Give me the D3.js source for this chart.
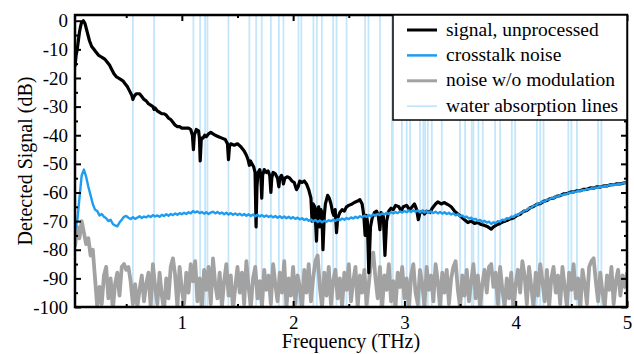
<!DOCTYPE html>
<html>
<head>
<meta charset="utf-8">
<script src="https://cdn.jsdelivr.net/npm/d3@7"></script>
<style>
  body { margin: 0; background: #fff; }
  svg text { font-family: "Liberation Serif", "Times New Roman", serif; fill: #000; }
</style>
</head>
<body>
<div id="chart"></div>
<script>
// measured signal (THz, dB)
const signalPts = [
  [0.04,-16],[0.05,-12],[0.06,-10],[0.07,-7],[0.08,-4],[0.09,-2],[0.10,-0.5],[0.115,0],[0.13,-1],
  [0.15,-4],[0.17,-7],[0.19,-9],[0.21,-10],[0.23,-11],[0.25,-12],[0.27,-12.5],[0.29,-13],[0.31,-13.5],
  [0.33,-14.5],[0.35,-15.5],[0.37,-17],[0.39,-18.5],[0.41,-19.5],[0.43,-20],[0.45,-20.5],[0.47,-21],
  [0.49,-22],[0.51,-23],[0.53,-24.5],[0.55,-26],[0.56,-27.5],[0.57,-26.5],[0.59,-25.5],[0.62,-25.5],
  [0.64,-26.5],[0.66,-27.5],[0.68,-28],[0.70,-29],[0.72,-29.5],[0.74,-30],[0.75,-31],[0.76,-30.5],
  [0.78,-31.5],[0.80,-32],[0.82,-32.5],[0.84,-32.5],[0.86,-33],[0.88,-34],[0.90,-34.5],[0.92,-35.5],
  [0.94,-36.5],[0.96,-37],[0.98,-37],[1.00,-37.5],[1.03,-37.5],[1.06,-37.5],[1.08,-38],[1.095,-40],
  [1.104,-45],[1.112,-40],[1.13,-38],[1.15,-38.5],[1.158,-41],[1.165,-49],[1.175,-41],[1.19,-41],
  [1.205,-40],[1.22,-40.5],[1.24,-39.5],[1.26,-39],[1.28,-39.5],[1.30,-40],[1.33,-40.5],[1.36,-41],
  [1.39,-41.5],[1.41,-43],[1.419,-48.5],[1.428,-44],[1.44,-43],[1.47,-43.5],[1.50,-43],[1.53,-44],
  [1.56,-45.5],[1.58,-47],[1.595,-48.5],[1.607,-50.5],[1.617,-49],[1.63,-50],[1.645,-51],[1.658,-53],
  [1.667,-72],[1.675,-58],[1.685,-53],[1.70,-52],[1.71,-54],[1.718,-62],[1.726,-54],[1.74,-52],
  [1.76,-53],[1.775,-52.5],[1.79,-54],[1.80,-60],[1.808,-55],[1.82,-53],[1.84,-53.5],[1.86,-55],
  [1.872,-58],[1.88,-55],[1.895,-54],[1.905,-55],[1.913,-57],[1.925,-55],[1.95,-54.5],[1.97,-55],
  [1.99,-56],[2.01,-56.5],[2.03,-59],[2.045,-58],[2.06,-56],[2.08,-56.5],[2.10,-56],[2.12,-57],
  [2.14,-59],[2.16,-62],[2.17,-70],[2.18,-64],[2.195,-65],[2.21,-77],[2.22,-66],[2.23,-65],
  [2.24,-72],[2.25,-66],[2.258,-67],[2.268,-80],[2.28,-68],[2.29,-64],[2.31,-61],[2.325,-62],
  [2.34,-64],[2.355,-67],[2.365,-68],[2.378,-66],[2.39,-74],[2.40,-69],[2.42,-67],[2.44,-66],
  [2.46,-66.5],[2.48,-65],[2.50,-64.5],[2.53,-64],[2.55,-63.5],[2.58,-63],[2.60,-62.5],[2.62,-64],
  [2.635,-68],[2.647,-75],[2.657,-68],[2.667,-70],[2.68,-88],[2.695,-72],[2.71,-69],[2.73,-67],
  [2.75,-66.5],[2.765,-68],[2.78,-73],[2.79,-67],[2.81,-68],[2.825,-82],[2.84,-70],[2.86,-66.5],
  [2.88,-65.5],[2.90,-66],[2.92,-64.5],[2.95,-65],[2.97,-66.5],[2.99,-65],[3.02,-64.5],[3.045,-66],
  [3.07,-65],[3.09,-64],[3.11,-66],[3.125,-69.5],[3.14,-67],[3.165,-66.5],[3.18,-67.5],[3.20,-66.5],
  [3.23,-67],[3.25,-65.5],[3.28,-64],[3.30,-63.3],[3.33,-64],[3.36,-63.5],[3.39,-64.2],[3.42,-65],
  [3.45,-66.5],[3.48,-67.5],[3.51,-68.5],[3.54,-69.5],[3.57,-70.5],[3.60,-70],[3.63,-70.8],[3.66,-70.5],
  [3.69,-71.2],[3.72,-71.5],[3.75,-72],[3.78,-72.8],[3.80,-72],[3.83,-71.3],[3.86,-70.8],[3.89,-70.2],
  [3.92,-69.8],[3.95,-69.2],[3.98,-68.9],[4.01,-68],[4.04,-67.6],[4.07,-66.6],[4.10,-66.3],[4.13,-65.3],
  [4.16,-64.9],[4.19,-64.1],[4.22,-63.9],[4.25,-63.1],[4.28,-62.8],[4.31,-62.1],[4.34,-62],[4.37,-61.3],
  [4.40,-61.1],[4.43,-60.5],[4.46,-60.4],[4.49,-59.9],[4.52,-59.8],[4.55,-59.4],[4.58,-59.4],[4.61,-58.9],
  [4.64,-58.9],[4.67,-58.4],[4.70,-58.5],[4.73,-58],[4.76,-58.1],[4.79,-57.7],[4.82,-57.7],[4.85,-57.3],
  [4.88,-57.3],[4.91,-57],[4.94,-57],[4.97,-56.7],[5.00,-56.5]
];

// crosstalk and no-modulation noise, sampled from 0.04 THz every 0.02 THz
const gridStart = 0.04, gridStep = 0.02;
const crosstalkDb = [
  -73,-70,-62,-54,-52,-54.5,-58,-61,-64,-66,-66.5,-68,-67.5,-68.5,-69,-70,-69.5,-71,-71.5,-71.8,
  -70.5,-69.5,-68.5,-68.2,-68.8,-69.3,-68.6,-69.2,-68.8,-68.3,-68.9,-68.4,-68.7,-68.1,-68.6,-67.9,-68.4,-68.0,-68.5,-67.8,
  -68.2,-67.6,-68.1,-67.5,-67.9,-67.3,-67.8,-67.2,-67.6,-67.1,-67.5,-66.9,-67.3,-66.5,-67.0,-66.6,-67.2,-66.8,-67.4,-66.9,
  -67.5,-67.0,-66.7,-67.3,-66.8,-67.4,-67.0,-67.6,-67.1,-67.7,-67.2,-67.8,-67.3,-67.9,-67.4,-68.0,-67.5,-68.1,-67.6,-68.2,
  -67.7,-68.3,-67.8,-68.4,-67.9,-68.5,-68.0,-68.6,-68.1,-68.7,-68.2,-68.8,-68.3,-68.9,-68.4,-69.0,-68.5,-69.1,-68.6,-69.2,
  -68.8,-69.4,-69.0,-69.6,-69.2,-69.9,-69.4,-70.1,-69.6,-70.3,-69.8,-70.4,-69.9,-70.2,-69.7,-70.0,-69.5,-69.9,-69.3,-69.7,
  -69.1,-69.5,-68.9,-69.3,-68.7,-69.1,-68.5,-68.9,-68.3,-68.7,-68.1,-68.5,-67.9,-68.3,-67.7,-68.1,-67.5,-67.9,-67.3,-67.7,
  -67.1,-67.5,-66.9,-67.3,-66.8,-67.2,-66.6,-67.0,-66.5,-66.9,-66.3,-66.8,-66.2,-66.7,-66.3,-66.9,-66.4,-67.0,-66.5,-67.1,
  -66.6,-67.2,-66.7,-67.3,-66.8,-67.4,-66.9,-67.5,-67.1,-67.7,-67.3,-68.0,-67.6,-68.3,-68.0,-68.7,-68.4,-69.1,-68.8,-69.5,
  -69.2,-69.9,-69.6,-70.3,-69.9,-70.5,-70.2,-71.0,-70.4,-70.7,-70.0,-70.2,-69.5,-69.7,-69.0,-69.1,-68.4,-68.6,-67.8,-67.9,
  -67.1,-67.0,-66.2,-66.2,-65.4,-65.3,-64.6,-64.5,-63.8,-63.8,-63.1,-63.2,-62.5,-62.5,-61.9,-62.0,-61.4,-61.4,-60.9,-61.0,
  -60.5,-60.5,-60.1,-60.1,-59.7,-59.8,-59.4,-59.5,-59.1,-59.2,-58.8,-58.9,-58.5,-58.6,-58.2,-58.3,-57.9,-58.0,-57.7,-57.8,
  -57.4,-57.5,-57.2,-57.3,-57.0,-57.0,-56.8,-56.7,-56.4
];
const noiseDb = [
  -79,-72,-76,-70,-74,-78,-76,-82,-80,-90,-100,-93,-99,-89,-86,-97,-90,-101,-92,-88,
  -96,-86,-85,-87,-86,-91,-99,-92,-100,-94,-89,-98,-92,-88,-100,-85,-93,-99,-88,-96,
  -101,-90,-97,-86,-83,-89,-100,-86,-94,-99,-88,-95,-85,-91,-84,-98,-90,-100,-87,-94,
  -86,-99,-83,-92,-97,-88,-100,-91,-85,-96,-89,-101,-93,-86,-95,-88,-99,-84,-93,-100,
  -90,-86,-97,-91,-100,-87,-94,-89,-99,-85,-92,-98,-88,-95,-84,-100,-90,-96,-86,-99,
  -89,-93,-101,-87,-95,-85,-98,-90,-84,-82,-93,-100,-88,-96,-86,-99,-91,-87,-97,-90,
  -100,-88,-94,-85,-98,-91,-86,-100,-89,-95,-87,-99,-92,-84,-81,-90,-97,-86,-100,-89,
  -94,-85,-98,-91,-100,-88,-93,-86,-97,-90,-101,-89,-85,-95,-99,-87,-92,-100,-86,-94,
  -89,-98,-85,-91,-100,-88,-95,-87,-99,-90,-86,-84,-94,-100,-89,-96,-87,-98,-91,-85,
  -97,-89,-100,-92,-87,-95,-86,-85,-93,-88,-99,-86,-94,-100,-90,-97,-88,-101,-92,-87,
  -95,-84,-89,-99,-86,-93,-100,-88,-96,-85,-91,-98,-87,-100,-90,-86,-95,-89,-99,-86,
  -93,-100,-88,-94,-85,-97,-90,-101,-87,-92,-99,-86,-84,-83,-91,-98,-88,-95,-100,-89,
  -94,-86,-99,-91,-87,-96,-89,-93,-88
];

// water absorption lines (THz)
const waterLines = [
  0.56, 0.751, 1.104, 1.164, 1.209, 1.23, 1.419, 1.607, 1.668, 1.718, 1.80, 1.872, 1.913,
  2.048, 2.074, 2.182, 2.213, 2.258, 2.36, 2.39, 2.48, 2.647, 2.677, 2.78, 2.887, 2.896,
  2.977, 3.02, 3.051, 3.14, 3.17, 3.186, 3.21, 3.246, 3.336, 3.50, 3.545, 3.605, 3.62,
  3.665, 3.704, 3.815, 3.86, 3.965, 3.995, 4.19, 4.22, 4.25, 4.473, 4.50, 4.55, 4.74, 4.77
];

const xMajor = [1, 2, 3, 4, 5];
const xMinor = [0.5, 1.5, 2.5, 3.5, 4.5];
const yMajor = [0, -10, -20, -30, -40, -50, -60, -70, -80, -90, -100];
const yMinor = [-5, -15, -25, -35, -45, -55, -65, -75, -85, -95];
const legendLabels = ['signal, unprocessed', 'crosstalk noise', 'noise w/o modulation', 'water absorption lines'];

const width = 634, height = 354;
const margin = { top: 15, right: 7, bottom: 47, left: 75 };
const colors = { signal: '#000000', crosstalk: '#1e9cf0', noise: '#a2a2a2', water: '#c4e6fa' };

const svg = d3.select('#chart').append('svg')
  .attr('width', width).attr('height', height);

const x = d3.scaleLinear().domain([0.04, 5]).range([margin.left, width - margin.right]);
const y = d3.scaleLinear().domain([-100, 2]).range([height - margin.bottom, margin.top]);

svg.append('clipPath').attr('id', 'plotClip')
  .append('rect')
  .attr('x', margin.left).attr('y', margin.top)
  .attr('width', width - margin.left - margin.right)
  .attr('height', height - margin.top - margin.bottom);

const plot = svg.append('g').attr('clip-path', 'url(#plotClip)');

plot.selectAll('.water')
  .data(waterLines)
  .enter().append('line')
  .attr('class', 'water')
  .attr('x1', d => x(d)).attr('x2', d => x(d))
  .attr('y1', margin.top).attr('y2', height - margin.bottom)
  .attr('stroke', colors.water).attr('stroke-width', 1.8);

const line = d3.line().x(d => x(d[0])).y(d => y(d[1]));
const onGrid = arr => arr.map((v, i) => [gridStart + i * gridStep, v]);

plot.append('path').datum(onGrid(noiseDb))
  .attr('d', line).attr('fill', 'none')
  .attr('stroke', colors.noise).attr('stroke-width', 3.8).attr('stroke-linejoin', 'round');

plot.append('path').datum(signalPts)
  .attr('d', line).attr('fill', 'none')
  .attr('stroke', colors.signal).attr('stroke-width', 3.2).attr('stroke-linejoin', 'round');

plot.append('path').datum(onGrid(crosstalkDb))
  .attr('d', line).attr('fill', 'none')
  .attr('stroke', colors.crosstalk).attr('stroke-width', 2.4).attr('stroke-linejoin', 'round');

// axes with inward ticks
const fmt = d => String(d);
const bottom = height - margin.bottom, right = width - margin.right;

svg.append('g').attr('transform', `translate(0,${bottom})`)
  .call(d3.axisBottom(x).tickValues(xMajor).tickSize(-6).tickPadding(8.5).tickFormat(fmt));
svg.append('g').attr('transform', `translate(0,${bottom})`)
  .call(d3.axisBottom(x).tickValues(xMinor).tickSize(-3).tickFormat(''));
svg.append('g').attr('transform', `translate(0,${margin.top})`)
  .call(d3.axisTop(x).tickValues(xMajor).tickSize(-6).tickFormat(''));
svg.append('g').attr('transform', `translate(0,${margin.top})`)
  .call(d3.axisTop(x).tickValues(xMinor).tickSize(-3).tickFormat(''));
svg.append('g').attr('transform', `translate(${margin.left},0)`)
  .call(d3.axisLeft(y).tickValues(yMajor).tickSize(-6).tickPadding(7).tickFormat(fmt));
svg.append('g').attr('transform', `translate(${margin.left},0)`)
  .call(d3.axisLeft(y).tickValues(yMinor).tickSize(-3).tickFormat(''));
svg.append('g').attr('transform', `translate(${right},0)`)
  .call(d3.axisRight(y).tickValues(yMajor).tickSize(-6).tickFormat(''));
svg.append('g').attr('transform', `translate(${right},0)`)
  .call(d3.axisRight(y).tickValues(yMinor).tickSize(-3).tickFormat(''));

svg.selectAll('.domain').remove();
svg.selectAll('.tick line').attr('stroke', '#000').attr('stroke-width', 2);
svg.selectAll('.tick text')
  .style('font-family', '"Liberation Serif", "Times New Roman", serif')
  .style('font-size', '19px').attr('fill', '#000');

svg.append('rect')
  .attr('x', margin.left).attr('y', margin.top)
  .attr('width', right - margin.left).attr('height', bottom - margin.top)
  .attr('fill', 'none').attr('stroke', '#000').attr('stroke-width', 2.5);

svg.append('text')
  .attr('x', (margin.left + right) / 2).attr('y', 347.5)
  .attr('text-anchor', 'middle').style('font-size', '20px')
  .text('Frequency (THz)');

svg.append('text')
  .attr('transform', `translate(32,${(margin.top + bottom) / 2}) rotate(-90)`)
  .attr('text-anchor', 'middle').style('font-size', '20px')
  .text('Detected Signal (dB)');

// legend
const legend = svg.append('g');
legend.append('rect')
  .attr('x', 393).attr('y', margin.top)
  .attr('width', right - 393).attr('height', 105)
  .attr('fill', '#fff').attr('stroke', '#000').attr('stroke-width', 1.5);

const legendItems = [
  { label: legendLabels[0], color: colors.signal, w: 3 },
  { label: legendLabels[1], color: colors.crosstalk, w: 2.5 },
  { label: legendLabels[2], color: colors.noise, w: 3 },
  { label: legendLabels[3], color: colors.water, w: 1.8 }
];
const entry = legend.selectAll('.entry')
  .data(legendItems)
  .enter().append('g')
  .attr('transform', (d, i) => `translate(0,${30 + i * 25.4})`);
entry.append('line')
  .attr('x1', 407).attr('x2', 437)
  .attr('stroke', d => d.color).attr('stroke-width', d => d.w);
entry.append('text')
  .attr('x', 446).attr('y', 5.5)
  .style('font-size', '19.5px')
  .text(d => d.label);
</script>
</body>
</html>
